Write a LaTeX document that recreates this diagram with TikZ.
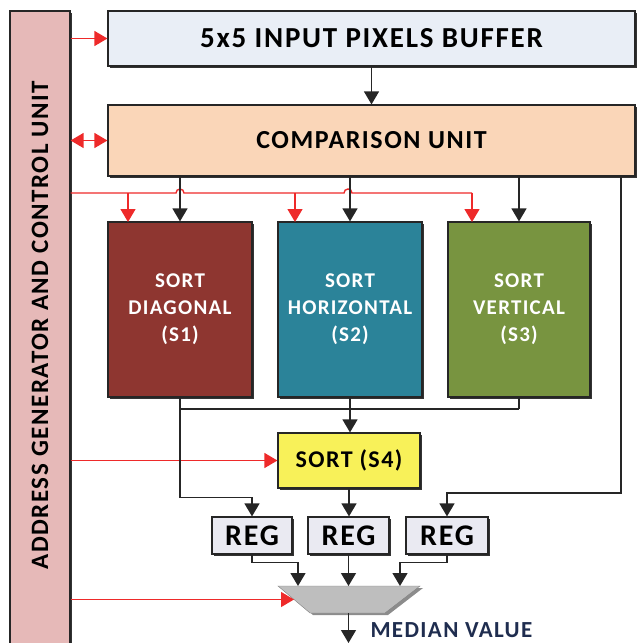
\documentclass[tikz,border=0pt]{standalone}
\usepackage{fontspec}
\setmainfont{Carlito}[LetterSpace=6]
\usepackage{tikz}
\usepackage{xcolor}
\usetikzlibrary{arrows.meta,calc,shadows}
\definecolor{ctrlpink}{HTML}{E6B9B8}
\definecolor{bufblue}{HTML}{E9EEF6}
\definecolor{cmppeach}{HTML}{FAD6B8}
\definecolor{diagred}{HTML}{8E3630}
\definecolor{horteal}{HTML}{2B8399}
\definecolor{vertgreen}{HTML}{789440}
\definecolor{sortyellow}{HTML}{F8F159}
\definecolor{reggray}{HTML}{EAEAF2}
\definecolor{muxgray}{HTML}{BEBEBE}
\definecolor{sigred}{HTML}{EE2A2A}
\definecolor{outnavy}{HTML}{1F2D4F}

\begin{document}
\begin{tikzpicture}[x=1pt, y=-1pt,
    every node/.style={font=\bfseries},
    unit/.style={draw=black!85, line width=1.2pt, inner sep=0pt, align=center,
      drop shadow={shadow xshift=2pt, shadow yshift=-2pt, opacity=1, fill=black!80}},
    sortbox/.style={unit, minimum height=175, text=white,
      font=\fontsize{21}{27}\selectfont\bfseries},
    regbox/.style={unit, fill=reggray, minimum height=37,
      font=\fontsize{30}{32}\selectfont\bfseries},
    arr/.style={-{Triangle[width=15pt,length=13pt]}, line width=1.4pt, black!85},
    sig/.style={-{Triangle[width=15pt,length=13pt]}, line width=1.4pt, sigred},
    wire/.style={line width=1.4pt, black!85}]
  \useasboundingbox (0,0) rectangle (637,643);
  \clip (0,0) rectangle (637,643);
  % control unit bar
  \node[unit, fill=ctrlpink, minimum width=60, minimum height=639] (ctrl) at (40,330.5) {};
  \node[rotate=90, font=\fontsize{25}{28}\selectfont\bfseries] (ctrllabel) at (40,325)
       {ADDRESS GENERATOR AND CONTROL UNIT};
  % buffer and comparison
  \node[unit, fill=bufblue, minimum width=527, minimum height=55,
        font=\fontsize{29}{32}\selectfont\bfseries] (buf) at (371.5,38.5)
       {5x5 INPUT PIXELS BUFFER};
  \node[unit, fill=cmppeach, minimum width=527, minimum height=71,
        font=\fontsize{26}{30}\selectfont\bfseries] (cmp) at (371.5,140.5)
       {COMPARISON UNIT};
  % sorters
  \node[sortbox, fill=diagred, minimum width=144] (sdiag) at (180,309.5)
       {SORT\\DIAGONAL\\(S1)};
  \node[sortbox, fill=horteal, minimum width=144] (shor) at (350,309.5)
       {SORT\\HORIZONTAL\\(S2)};
  \node[sortbox, fill=vertgreen, minimum width=142] (svert) at (519,309.5)
       {SORT\\VERTICAL\\(S3)};
  \node[unit, fill=sortyellow, minimum width=142, minimum height=55,
        font=\fontsize{24}{28}\selectfont\bfseries] (sfour) at (349,460.5) {SORT (S4)};
  % registers
  \node[regbox, minimum width=80] (rega) at (252,535.5) {REG};
  \node[regbox, minimum width=81] (regb) at (348.5,535.5) {REG};
  \node[regbox, minimum width=82] (regc) at (447,535.5) {REG};
  % selector
  \coordinate (muxtl) at (278,586);  \coordinate (muxtr) at (420,586);
  \coordinate (muxbr) at (385,613);  \coordinate (muxbl) at (310,613);
  \coordinate (muxina) at (298,586); \coordinate (muxinb) at (348.5,586);
  \coordinate (muxinc) at (400,586); \coordinate (muxsel) at (294,599.5);
  \coordinate (muxout) at (348.5,613);
  \fill[black!45] ($(muxtl)+(3,2)$) -- ($(muxtr)+(3,2)$) -- ($(muxbr)+(3,2)$)
       -- ($(muxbl)+(3,2)$) -- cycle;
  \draw[black!50, fill=muxgray] (muxtl) -- (muxtr) -- (muxbr) -- (muxbl) -- cycle;
  \node[text=outnavy, font=\fontsize{23}{26}\selectfont\bfseries, anchor=west]
       (outlabel) at (367,630) {MEDIAN VALUE};
  \coordinate (out) at (348.5,643);

  % control signals
  \draw[sig] (ctrl.east |- buf.west) -- (buf.west);
  \draw[sig, {Triangle[width=15pt,length=13pt]}-{Triangle[width=15pt,length=13pt]}]
       (ctrl.east |- cmp.west) -- (cmp.west);
  \draw[line width=1.4pt, sigred] (ctrl.east |- 0,193) -- (176,193)
       arc[start angle=180, end angle=360, radius=4] -- (344,193)
       arc[start angle=180, end angle=360, radius=4] -- (472,193);
  \draw[sig] (128,193) -- (128,222);
  \draw[sig] (295,193) -- (295,222);
  \draw[sig] (472,193) -- (472,222);
  \draw[sig] (ctrl.east |- sfour.west) -- (sfour.west);
  \draw[sig] (ctrl.east |- muxsel) -- (muxsel);

  % data path
  \draw[arr] (buf.south) -- (buf.south |- cmp.north);
  \draw[arr] (cmp.south -| sdiag.north) -- (sdiag.north);
  \draw[arr] (cmp.south -| shor.north) -- (shor.north);
  \draw[arr] (cmp.south -| svert.north) -- (svert.north);
  \draw[arr] (cmp.south -| 621,0) -- (621,493) -| (regc.north);
  \draw[wire] (sdiag.south |- 0,409) -- (svert.south |- 0,409);
  \draw[wire] (svert.south) -- (svert.south |- 0,409);
  \draw[arr] (shor.south) -- (shor.south |- sfour.north);
  \draw[arr] (sdiag.south) -- ++(0,100) -| (rega.north);
  \draw[arr] (sfour.south) -- (sfour.south |- regb.north);
  \draw[arr] (rega.south) -- ++(0,8) -| (muxina);
  \draw[arr] (regb.south) -- (muxinb);
  \draw[arr] (regc.south) -- ++(0,8) -| (muxinc);
  \draw[arr] (muxout) -- (out);
\end{tikzpicture}
\end{document}
